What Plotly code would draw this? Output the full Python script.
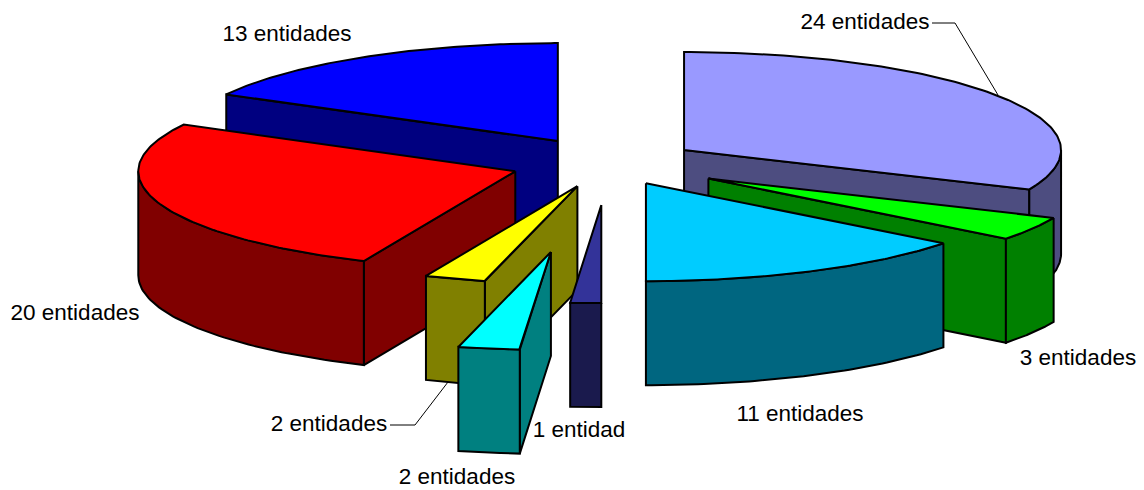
import numpy as np
import plotly.graph_objects as go

# Data, clockwise from 12 o'clock
labels = ["24 entidades", "3 entidades", "11 entidades", "1 entidad",
          "2 entidades", "2 entidades", "20 entidades", "13 entidades"]
values = [24, 3, 11, 1, 2, 2, 20, 13]
explode = [0.241, 0.31, 0.229, 0.43, 0.92, 0.25, 0.26, 0.26]
top_colors = ["#9999FF", "#00FF00", "#00CCFF", "#333399", "#00FFFF", "#FFFF00", "#FF0000", "#0000FF"]
side_colors = ["#4D4D80", "#008000", "#006680", "#1A1A4D", "#008080", "#808000", "#800000", "#000080"]
draw_order = [7, 0, 6, 1, 2, 5, 3, 4]

# Pie projection (pixels)
CX, CY, A, B, H = 608.0, 163.0, 377.0, 98.0, 104.0
label_xy = [(865, 23.5), (1078, 359.5), (800, 415.5), (579, 431), (457, 478), (329, 425), (75, 314.5), (287, 35.5)]
leaders = [[(932, 23), (955, 23), (998, 95)], [(390, 425), (415, 425), (448, 382)]]

fig = go.Figure()


def poly(xs, ys, color):
    fig.add_trace(go.Scatter(x=list(xs) + [xs[0]], y=list(ys) + [ys[0]], mode="lines",
                             fill="toself", fillcolor=color,
                             line=dict(color="black", width=2), hoverinfo="skip", showlegend=False))


def point(ax, ay, deg):
    t = np.radians(deg)
    return ax + A * np.sin(t), ay - B * np.cos(t)


edges = np.concatenate([[0], np.cumsum(values)]) / sum(values) * 360.0

for i in draw_order:
    t1, t2 = edges[i], edges[i + 1]
    mid = np.radians((t1 + t2) / 2)
    ax = CX + explode[i] * A * np.sin(mid)
    ay = CY - explode[i] * B * np.cos(mid)

    # visible radial faces
    for t, vis in ((t1, np.sin(np.radians(t1)) < -1e-6), (t2, np.sin(np.radians(t2)) > 1e-6)):
        if vis:
            px, py = point(ax, ay, t)
            poly([ax, px, px, ax], [ay, py, py + H, ay + H], side_colors[i])

    # outer wall (front half only)
    lo, hi = max(t1, 90.0), min(t2, 270.0)
    if hi > lo:
        ts = np.linspace(lo, hi, 60)
        px, py = point(ax, ay, ts)
        poly(list(px) + list(px[::-1]), list(py) + list(py[::-1] + H), side_colors[i])

    # top face
    ts = np.linspace(t1, t2, 120)
    px, py = point(ax, ay, ts)
    poly([ax] + list(px), [ay] + list(py), top_colors[i])

for pts in leaders:
    fig.add_trace(go.Scatter(x=[p[0] for p in pts], y=[p[1] for p in pts], mode="lines",
                             line=dict(color="black", width=1), hoverinfo="skip", showlegend=False))

fig.add_trace(go.Scatter(x=[p[0] for p in label_xy], y=[p[1] for p in label_xy], mode="text",
                         text=labels, textposition="middle center",
                         textfont=dict(family="Liberation Sans, Arial, sans-serif", size=22.5, color="black"),
                         hoverinfo="skip", showlegend=False))

fig.update_layout(width=1144, height=490, margin=dict(l=0, r=0, t=0, b=0),
                  paper_bgcolor="white", plot_bgcolor="white", showlegend=False,
                  xaxis=dict(range=[0, 1144], visible=False, fixedrange=True),
                  yaxis=dict(range=[490, 0], visible=False, fixedrange=True))
fig.write_html("out.html", config={"displayModeBar": False},
               post_script="document.body.style.margin='0';document.body.style.overflow='hidden';")
